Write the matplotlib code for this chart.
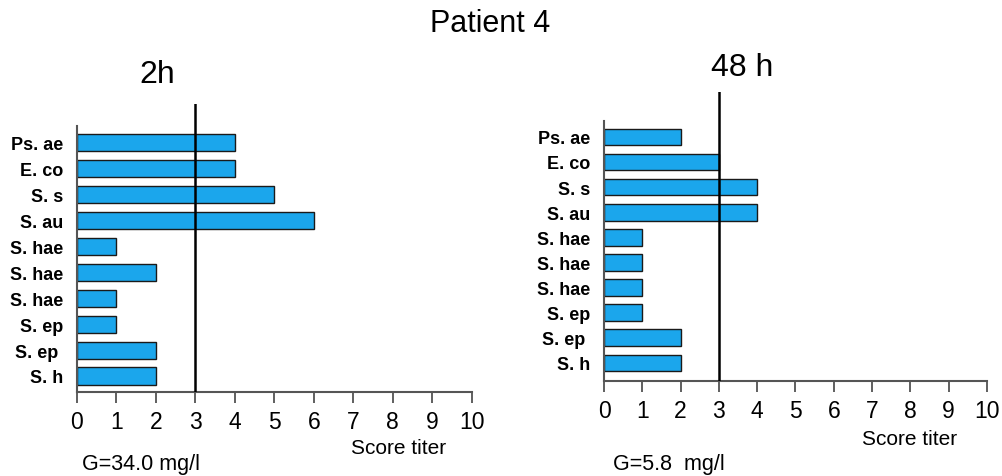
import matplotlib.pyplot as plt

# data
species = ['Ps. ae', 'E. co', 'S. s', 'S. au', 'S. hae', 'S. hae', 'S. hae',
           'S. ep', 'S. ep ', 'S. h']
score_2h = [4, 4, 5, 6, 1, 2, 1, 1, 2, 2]
score_48h = [2, 3, 4, 4, 1, 1, 1, 1, 2, 2]
cutoff = 3
xticks = list(range(0, 11))

plt.rcParams['font.family'] = ['Liberation Sans', 'DejaVu Sans']

bar_color = '#1ba6ec'

fig = plt.figure(figsize=(10.02, 4.77), dpi=100)

# panel settings: axes rect, y-limits (bottom, top), spine top, title pos, G text, score titer pos
panels = [
    (score_2h, '2h', [0.0768, 0.176, 0.394, 0.6038], (9.62, -1.5), -0.66, 157, 75,
     'G=34.0 mg/l', 82, 399, 449),
    (score_48h, '48 h', [0.6028, 0.1992, 0.3822, 0.606], (9.72, -1.79), -0.64, 742, 68,
     'G=5.8  mg/l', 613, 910, 440),
]

for vals, title, rect, ylim, spine_top, tx, ty, gtext, gx, sx, sy in panels:
    ax = fig.add_axes(rect)
    ax.barh(range(len(species)), vals, height=0.66, color=bar_color,
            edgecolor='#1a1a1a', linewidth=1.0, zorder=2)
    ax.set_ylim(*ylim)
    ax.set_xlim(0, 10)
    ax.axvline(cutoff, color='black', linewidth=1.8, zorder=3)

    ax.set_yticks(range(len(species)))
    ax.set_yticklabels(species, fontsize=13, fontweight='bold')
    ax.tick_params(axis='y', length=0, pad=10)

    ax.set_xticks(xticks)
    ax.set_xticklabels([str(t) for t in xticks], fontsize=16.5)
    ax.tick_params(axis='x', direction='out', length=8, width=1.2,
                   color='#444444', pad=5)

    ax.spines['top'].set_visible(False)
    ax.spines['right'].set_visible(False)
    ax.spines['left'].set_bounds(ylim[0], spine_top)
    for s in ('left', 'bottom'):
        ax.spines[s].set_color('#555555')
        ax.spines[s].set_linewidth(1.5)

    fig.text(tx / 1002, 1 - ty / 477, title, fontsize=23, ha='center', va='center')
    fig.text(sx / 1002, 1 - sy / 477, 'Score titer', fontsize=15,
             ha='center', va='center')
    fig.text(gx / 1002, 1 - 465 / 477, gtext, fontsize=15.5,
             ha='left', va='center')

fig.text(490 / 1002, 1 - 24 / 477, 'Patient 4', fontsize=22, ha='center', va='center')

fig.savefig('out.png', dpi=100)
